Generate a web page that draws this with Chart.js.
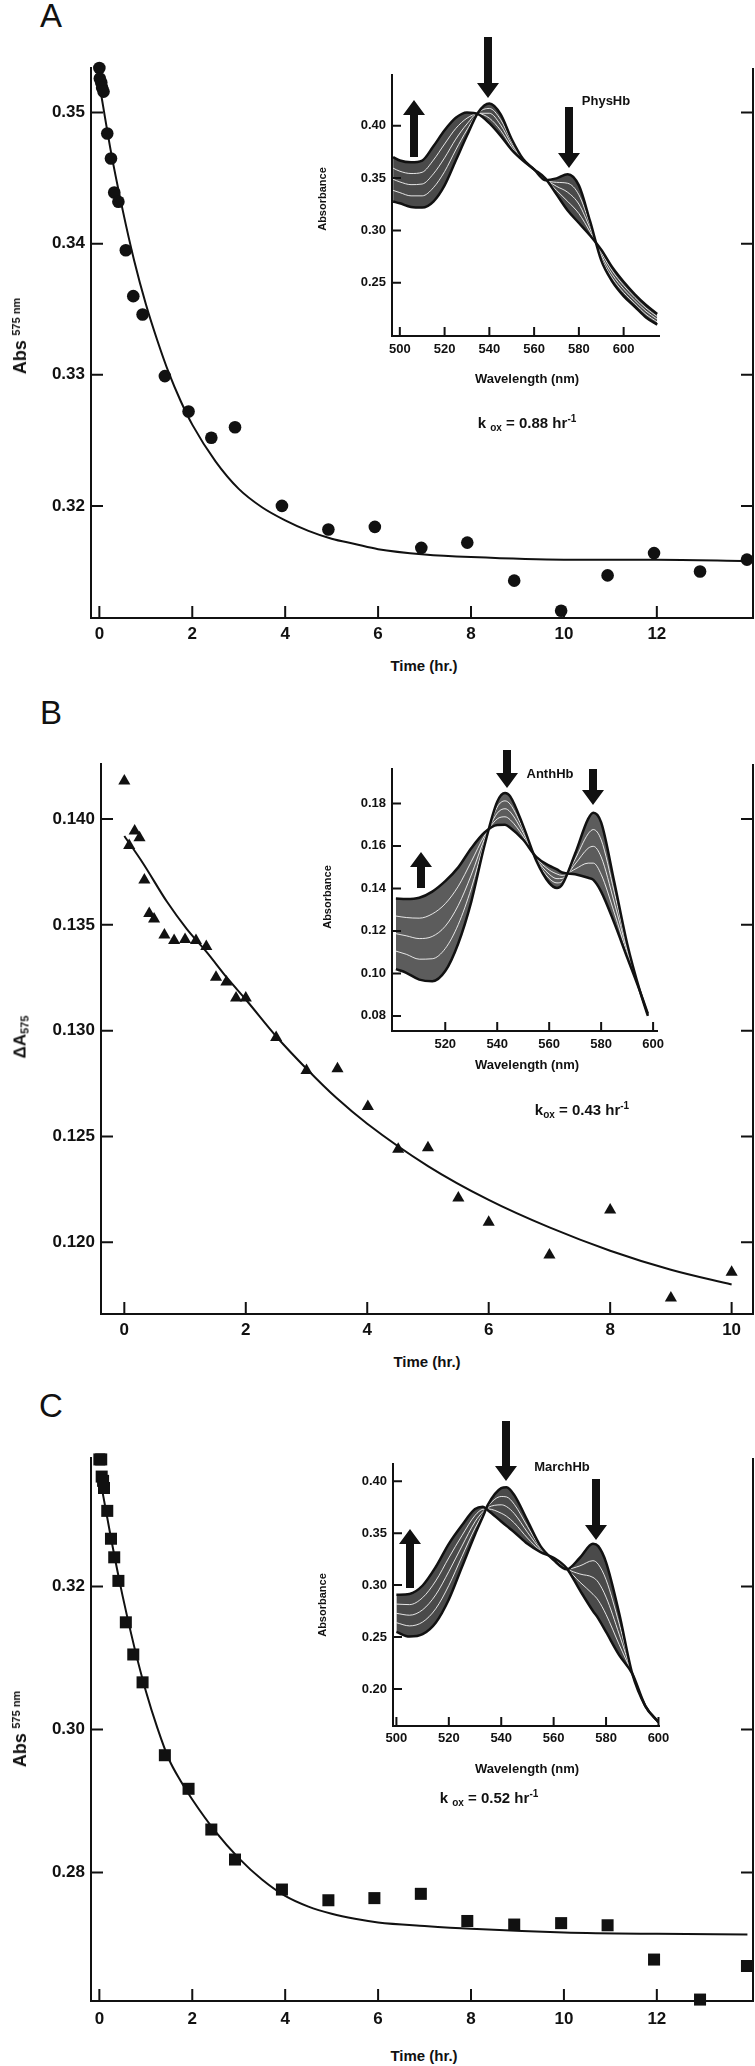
<!DOCTYPE html>
<html>
<head>
<meta charset="utf-8">
<script src="https://cdn.jsdelivr.net/npm/chart.js@4.4.0/dist/chart.umd.min.js"></script>
<style>
body { margin: 0; background: #fff; }
#page { position: relative; width: 755px; height: 2066px; overflow: hidden; color: #111;
        font-family: "Liberation Sans", Arial, Helvetica, sans-serif; }
#plots canvas { position: absolute; }
.t { position: absolute; transform: translate(-50%, -50%); white-space: nowrap; line-height: 1; font-weight: bold; }
.rot { transform: translate(-50%, -50%) rotate(-90deg); }
.sb { font-size: 10px; vertical-align: -3px; }
.sp { font-size: 10px; vertical-align: 6px; }
#arrows { position: absolute; left: 0; top: 0; }
</style>
</head>
<body>
<div id="page">
  <div id="plots"></div>

  <!-- panel A -->
  <div class="t" style="left:51px;top:15px;font-size:33px;font-weight:normal">A</div>
  <div class="t rot" style="left:20px;top:336px"><span style="font-size:18px">Abs</span> <span style="font-size:11px;vertical-align:top">575 nm</span></div>
  <div class="t" style="left:424px;top:665px;font-size:15px">Time (hr.)</div>
  <div class="t rot" style="left:322px;top:199px;font-size:11px">Absorbance</div>
  <div class="t" style="left:527px;top:378px;font-size:13px">Wavelength (nm)</div>
  <div class="t" style="left:606px;top:100px;font-size:13px">PhysHb</div>
  <div class="t" style="left:527px;top:423px;font-size:15px">k <span class="sb">ox</span> = 0.88 hr<span class="sp">-1</span></div>

  <!-- panel B -->
  <div class="t" style="left:51px;top:712px;font-size:33px;font-weight:normal">B</div>
  <div class="t rot" style="left:21px;top:1037px"><span style="font-size:17px">ΔA</span><span style="font-size:11px;vertical-align:-3px">575</span></div>
  <div class="t" style="left:427px;top:1361px;font-size:15px">Time (hr.)</div>
  <div class="t rot" style="left:327px;top:897px;font-size:11px">Absorbance</div>
  <div class="t" style="left:527px;top:1064px;font-size:13px">Wavelength (nm)</div>
  <div class="t" style="left:550px;top:773px;font-size:13px">AnthHb</div>
  <div class="t" style="left:582px;top:1110px;font-size:15px">k<span class="sb">ox</span> = 0.43 hr<span class="sp">-1</span></div>

  <!-- panel C -->
  <div class="t" style="left:51px;top:1405px;font-size:33px;font-weight:normal">C</div>
  <div class="t rot" style="left:20px;top:1729px"><span style="font-size:18px">Abs</span> <span style="font-size:11px;vertical-align:top">575 nm</span></div>
  <div class="t" style="left:424px;top:2055px;font-size:15px">Time (hr.)</div>
  <div class="t rot" style="left:322px;top:1605px;font-size:11px">Absorbance</div>
  <div class="t" style="left:527px;top:1768px;font-size:13px">Wavelength (nm)</div>
  <div class="t" style="left:562px;top:1466px;font-size:13px">MarchHb</div>
  <div class="t" style="left:489px;top:1798px;font-size:15px">k <span class="sb">ox</span> = 0.52 hr<span class="sp">-1</span></div>

  <svg id="arrows" width="755" height="2066"></svg>
</div>

<script>
// ---- Panel A: PhysHb, Abs 575 nm vs time ----
const timeA = [0, 0.01, 0.04, 0.06, 0.09, 0.17, 0.25, 0.32, 0.41, 0.57, 0.73, 0.93, 1.41, 1.92, 2.41, 2.92,
  3.93, 4.93, 5.93, 6.93, 7.92, 8.93, 9.94, 10.94, 11.94, 12.93, 13.94];
const absA = [0.3534, 0.3526, 0.3523, 0.3519, 0.3516, 0.3484, 0.3465, 0.3439, 0.3432, 0.3395, 0.3360, 0.3346,
  0.3299, 0.3272, 0.3252, 0.3260, 0.3200, 0.3182, 0.3184, 0.3168, 0.3172, 0.3143, 0.3120, 0.3147, 0.3164, 0.3150, 0.3159];
const fitTimeA = [0, 0.25, 0.5, 0.75, 1, 1.25, 1.5, 1.75, 2, 2.5, 3, 3.5, 4, 4.5, 5, 5.5, 6, 7, 8, 10, 12, 13.95];
const fitAbsA = [0.3522, 0.3470, 0.3426, 0.3387, 0.3354, 0.3326, 0.3301, 0.3280, 0.3262, 0.3234, 0.3213, 0.3199,
  0.3189, 0.3181, 0.3175, 0.3171, 0.3167, 0.3163, 0.3161, 0.3159, 0.3159, 0.3158];

// inset A spectra (first scan, three in-between scans, last scan)
const waveA = [497, 500, 505, 510, 515, 520, 525, 530, 535, 540, 545, 550, 555, 560, 565, 570, 575, 580, 585, 590,
  595, 600, 605, 610, 615];
const scanA0 = [0.3276, 0.3259, 0.3224, 0.3218, 0.3276, 0.3430, 0.3667, 0.3905, 0.4126, 0.4211, 0.4110, 0.3870,
  0.3684, 0.3582, 0.3480, 0.3497, 0.3537, 0.3430, 0.3088, 0.2714, 0.2510, 0.2374, 0.2272, 0.2170, 0.2102];
const scanA1 = [0.3382, 0.3361, 0.3330, 0.3330, 0.3408, 0.3562, 0.3769, 0.3960, 0.4122, 0.4164, 0.4059, 0.3845,
  0.3680, 0.3582, 0.3484, 0.3459, 0.3450, 0.3340, 0.3054, 0.2740, 0.2544, 0.2408, 0.2302, 0.2200, 0.2127];
const scanA2 = [0.3488, 0.3463, 0.3437, 0.3443, 0.3540, 0.3693, 0.3871, 0.4016, 0.4118, 0.4118, 0.4008, 0.3820,
  0.3676, 0.3582, 0.3489, 0.3421, 0.3364, 0.3251, 0.3020, 0.2765, 0.2578, 0.2442, 0.2332, 0.2230, 0.2153];
const scanA3 = [0.3594, 0.3565, 0.3543, 0.3555, 0.3671, 0.3825, 0.3973, 0.4071, 0.4114, 0.4071, 0.3956, 0.3794,
  0.3671, 0.3582, 0.3493, 0.3382, 0.3277, 0.3161, 0.2986, 0.2791, 0.2612, 0.2476, 0.2361, 0.2259, 0.2178];
const scanA4 = [0.3700, 0.3667, 0.3650, 0.3667, 0.3803, 0.3956, 0.4075, 0.4126, 0.4110, 0.4024, 0.3905, 0.3769,
  0.3667, 0.3582, 0.3497, 0.3344, 0.3190, 0.3071, 0.2952, 0.2816, 0.2646, 0.2510, 0.2391, 0.2289, 0.2204];

// ---- Panel B: AnthHb, delta A575 vs time ----
const timeB = [0, 0.08, 0.17, 0.25, 0.33, 0.41, 0.49, 0.66, 0.82, 1.0, 1.18, 1.35, 1.51, 1.68, 1.84, 2.0, 2.5,
  3.0, 3.51, 4.01, 4.51, 5.0, 5.5, 6.0, 7.0, 8.0, 9.0, 10.0];
const dA = [0.1418, 0.13875, 0.13943, 0.13911, 0.13712, 0.13553, 0.13528, 0.13452, 0.13426, 0.13431, 0.13426,
  0.13398, 0.13252, 0.13230, 0.13154, 0.13154, 0.12967, 0.12812, 0.12820, 0.12641, 0.12439, 0.12447, 0.12209,
  0.12094, 0.11940, 0.12153, 0.11737, 0.11858];
const fitTimeB = [0, 0.31, 0.70, 1.03, 1.36, 1.69, 2.02, 2.51, 3.0, 3.5, 4.0, 5, 6, 7, 8, 9, 10];
const fitDA = [0.1392, 0.1379, 0.1361, 0.1348, 0.1337, 0.1325, 0.1314, 0.1297, 0.1282, 0.1268, 0.1256, 0.1236,
  0.1220, 0.1207, 0.1196, 0.1187, 0.1180];

const waveB = [501, 505, 510, 515, 520, 525, 530, 535, 540, 543, 545, 550, 555, 560, 563, 565, 570, 575, 577, 580,
  585, 590, 595, 598];
const scanB0 = [0.1020, 0.1003, 0.0971, 0.0963, 0.1011, 0.1141, 0.1337, 0.1597, 0.1808, 0.1849, 0.1833, 0.1694,
  0.1532, 0.1426, 0.1402, 0.1418, 0.1564, 0.1727, 0.1756, 0.1711, 0.1434, 0.1141, 0.0914, 0.0800];
const scanB1 = [0.1105, 0.1090, 0.1067, 0.1069, 0.1117, 0.1230, 0.1400, 0.1613, 0.1783, 0.1812, 0.1796, 0.1678,
  0.1536, 0.1447, 0.1426, 0.1433, 0.1538, 0.1657, 0.1677, 0.1629, 0.1385, 0.1122, 0.0914, 0.0803];
const scanB2 = [0.1187, 0.1177, 0.1164, 0.1174, 0.1222, 0.1320, 0.1463, 0.1630, 0.1754, 0.1775, 0.1760, 0.1662,
  0.1540, 0.1467, 0.1446, 0.1447, 0.1515, 0.1589, 0.1598, 0.1548, 0.1336, 0.1108, 0.0914, 0.0805];
const scanB3 = [0.1270, 0.1263, 0.1260, 0.1280, 0.1328, 0.1410, 0.1526, 0.1646, 0.1727, 0.1737, 0.1723, 0.1645,
  0.1544, 0.1487, 0.1468, 0.1461, 0.1491, 0.1519, 0.1519, 0.1466, 0.1288, 0.1092, 0.0914, 0.0807];
const scanB4 = [0.1353, 0.1350, 0.1356, 0.1385, 0.1434, 0.1499, 0.1589, 0.1662, 0.1699, 0.1700, 0.1686, 0.1629,
  0.1548, 0.1507, 0.1490, 0.1475, 0.1467, 0.1450, 0.1440, 0.1385, 0.1239, 0.1076, 0.0914, 0.0810];

// ---- Panel C: MarchHb, Abs 575 nm vs time ----
const timeC = [0, 0.04, 0.05, 0.08, 0.10, 0.17, 0.25, 0.32, 0.41, 0.57, 0.73, 0.93, 1.41, 1.92, 2.41, 2.92,
  3.93, 4.93, 5.92, 6.92, 7.92, 8.93, 9.94, 10.94, 11.94, 12.93, 13.94];
const absC = [0.3378, 0.3378, 0.3354, 0.3348, 0.3338, 0.3306, 0.3267, 0.3241, 0.3208, 0.3150, 0.3105, 0.3066,
  0.2964, 0.2917, 0.2860, 0.2818, 0.2776, 0.2761, 0.2764, 0.2770, 0.2732, 0.2727, 0.2729, 0.2726, 0.2678, 0.2622, 0.2669];
const fitTimeC = [0, 0.25, 0.5, 0.75, 1, 1.25, 1.5, 1.75, 2, 2.5, 3, 3.5, 4, 4.5, 5, 5.5, 6, 7, 8, 10, 12, 13.95];
const fitAbsC = [0.3357, 0.3268, 0.3187, 0.3116, 0.3054, 0.3002, 0.2958, 0.2928, 0.2902, 0.2857, 0.2820, 0.2790,
  0.2767, 0.2752, 0.2742, 0.2735, 0.2730, 0.2725, 0.2721, 0.2716, 0.2714, 0.2713];

const waveC = [500, 505, 510, 515, 520, 525, 530, 533, 535, 540, 542, 545, 550, 555, 560, 565, 570, 575, 577, 580,
  585, 590, 595, 600];
const scanC0 = [0.2549, 0.2504, 0.2527, 0.2638, 0.2862, 0.3174, 0.3487, 0.3660, 0.3777, 0.3933, 0.3942, 0.3866,
  0.3621, 0.3375, 0.3241, 0.3152, 0.3263, 0.3397, 0.3375, 0.3219, 0.2728, 0.2147, 0.1835, 0.1679];
const scanC1 = [0.2638, 0.2607, 0.2644, 0.2772, 0.2996, 0.3275, 0.3548, 0.3683, 0.3762, 0.3853, 0.3849, 0.3777,
  0.3565, 0.3360, 0.3247, 0.3154, 0.3185, 0.3235, 0.3201, 0.3052, 0.2628, 0.2147, 0.1835, 0.1679];
const scanC2 = [0.2728, 0.2710, 0.2762, 0.2906, 0.3130, 0.3375, 0.3610, 0.3707, 0.3748, 0.3773, 0.3756, 0.3688,
  0.3509, 0.3346, 0.3252, 0.3157, 0.3107, 0.3074, 0.3028, 0.2884, 0.2527, 0.2147, 0.1835, 0.1679];
const scanC3 = [0.2817, 0.2812, 0.2879, 0.3040, 0.3263, 0.3476, 0.3671, 0.3730, 0.3733, 0.3692, 0.3663, 0.3598,
  0.3453, 0.3331, 0.3258, 0.3159, 0.3029, 0.2912, 0.2854, 0.2717, 0.2427, 0.2147, 0.1835, 0.1679];
const scanC4 = [0.2906, 0.2915, 0.2996, 0.3174, 0.3397, 0.3576, 0.3732, 0.3754, 0.3719, 0.3612, 0.3570, 0.3509,
  0.3397, 0.3317, 0.3263, 0.3161, 0.2951, 0.2750, 0.2680, 0.2549, 0.2326, 0.2147, 0.1835, 0.1679];

Chart.defaults.font.family = '"Liberation Sans", Arial, Helvetica, sans-serif';
Chart.defaults.color = '#111';

const INK = '#111';
const pts = (xs, ys) => xs.map((x, i) => ({x: x, y: ys[i]}));

// ticks point inward, and the main plots get a closing line on the right
const frame = {
  id: 'frame',
  afterDraw(chart, args, opts) {
    const {ctx, chartArea: a, scales: {x, y}} = chart;
    ctx.save();
    ctx.strokeStyle = INK;
    ctx.lineWidth = 2;
    ctx.beginPath();
    x.ticks.forEach(t => {
      if (t.label === null || t.label === undefined || t.label === '') return;
      const px = x.getPixelForValue(t.value);
      ctx.moveTo(px, a.bottom);
      ctx.lineTo(px, a.bottom - opts.len);
    });
    y.ticks.forEach(t => {
      if (t.label === null || t.label === undefined || t.label === '') return;
      const py = y.getPixelForValue(t.value);
      ctx.moveTo(a.left, py);
      ctx.lineTo(a.left + opts.len, py);
      if (opts.right) {
        ctx.moveTo(a.right, py);
        ctx.lineTo(a.right - opts.len, py);
      }
    });
    if (opts.right) {
      ctx.moveTo(a.right, a.top);
      ctx.lineTo(a.right, a.bottom + 1);
    }
    ctx.stroke();
    ctx.restore();
  }
};

function buildChart(g, datasets, sc) {
  const cv = document.createElement('canvas');
  const w = g.axisW + (g.right - g.left) + g.padR;
  const h = g.padT + (g.bottom - g.top) + g.axisH;
  cv.width = w;
  cv.height = h;
  cv.style.left = (g.left - g.axisW) + 'px';
  cv.style.top = (g.top - g.padT) + 'px';
  document.getElementById('plots').appendChild(cv);
  const tickFont = {size: sc.font, weight: 'bold'};
  return new Chart(cv, {
    type: 'scatter',
    data: {datasets: datasets},
    options: {
      responsive: false,
      animation: false,
      devicePixelRatio: 1,
      events: [],
      layout: {padding: {left: 0, right: g.padR, top: g.padT, bottom: 0}},
      plugins: {
        legend: {display: false},
        tooltip: {enabled: false},
        frame: {len: sc.tick, right: sc.right}
      },
      scales: {
        x: {
          type: 'linear', min: sc.x[0], max: sc.x[1],
          afterFit: s => { s.height = g.axisH; },
          grid: {display: false, drawTicks: false},
          border: {display: true, color: INK, width: 2},
          ticks: {stepSize: sc.xStep, includeBounds: false, autoSkip: false, maxRotation: 0,
                  padding: sc.xPad, color: INK, font: tickFont, callback: sc.xFmt}
        },
        y: {
          type: 'linear', min: sc.y[0], max: sc.y[1],
          afterFit: s => { s.width = g.axisW; },
          grid: {display: false, drawTicks: false},
          border: {display: true, color: INK, width: 2},
          ticks: {stepSize: sc.yStep, includeBounds: false, autoSkip: false,
                  padding: 6, color: INK, font: tickFont, callback: sc.yFmt}
        }
      }
    },
    plugins: [frame]
  });
}

function kinetics(times, values, fitT, fitV, style, radius) {
  return [
    {data: pts(times, values), pointStyle: style, pointRadius: radius, backgroundColor: INK,
     borderWidth: 0, clip: false},
    {type: 'line', data: pts(fitT, fitV), borderColor: INK, borderWidth: 2, pointRadius: 0,
     cubicInterpolationMode: 'monotone', fill: false}
  ];
}

function spectra(wave, scans, band) {
  const first = scans[0], last = scans[scans.length - 1];
  const line = (ys, color, width, order) => ({type: 'line', data: pts(wave, ys), borderColor: color,
    borderWidth: width, pointRadius: 0, cubicInterpolationMode: 'monotone', fill: false, order: order});
  const sets = [line(first, INK, 2.5, 0), line(last, INK, 2.5, 0)];
  scans.slice(1, -1).forEach(s => sets.push(line(s, 'rgba(255,255,255,0.85)', 1, 1)));
  const fillSet = line(last, 'rgba(0,0,0,0)', 0, 2);
  fillSet.fill = 0;
  fillSet.backgroundColor = band;
  sets.push(fillSet);
  return sets;
}

const int0 = v => String(Math.round(v));

// main kinetic plots
buildChart({left: 91, right: 753, top: 68, bottom: 618, axisW: 91, axisH: 32, padT: 24, padR: 10},
  kinetics(timeA, absA, fitTimeA, fitAbsA, 'circle', 6.3),
  {x: [-0.18, 14.07], y: [0.31145, 0.3534], xStep: 2, yStep: 0.01, font: 17, tick: 12, right: true, xPad: 6,
   xFmt: v => (v > 13 ? null : int0(v)), yFmt: v => v.toFixed(2)});

buildChart({left: 101, right: 753, top: 764, bottom: 1314, axisW: 101, axisH: 32, padT: 24, padR: 10},
  kinetics(timeB, dA, fitTimeB, fitDA, 'triangle', 7),
  {x: [-0.384, 10.352], y: [0.11661, 0.1426], xStep: 2, yStep: 0.005, font: 17, tick: 12, right: true, xPad: 6,
   xFmt: int0, yFmt: v => v.toFixed(3)});

buildChart({left: 91, right: 753, top: 1458, bottom: 2001, axisW: 91, axisH: 32, padT: 24, padR: 10},
  kinetics(timeC, absC, fitTimeC, fitAbsC, 'rect', 8.5),
  {x: [-0.18, 14.07], y: [0.2620, 0.3380], xStep: 2, yStep: 0.02, font: 17, tick: 12, right: true, xPad: 8,
   xFmt: v => (v > 13 ? null : int0(v)), yFmt: v => v.toFixed(2)});

// inset spectra
buildChart({left: 392, right: 659, top: 75, bottom: 336, axisW: 42, axisH: 24, padT: 16, padR: 20},
  spectra(waveA, [scanA0, scanA1, scanA2, scanA3, scanA4], '#4a4a4a'),
  {x: [496.5, 615.8], y: [0.1993, 0.4483], xStep: 20, yStep: 0.05, font: 13, tick: 9, right: false, xPad: 6,
   xFmt: int0, yFmt: v => (v < 0.22 ? null : v.toFixed(2))});

buildChart({left: 392, right: 657, top: 769, bottom: 1031, axisW: 42, axisH: 24, padT: 16, padR: 20},
  spectra(waveB, [scanB0, scanB1, scanB2, scanB3, scanB4], '#5c5c5c'),
  {x: [499.5, 601.5], y: [0.0729, 0.1962], xStep: 20, yStep: 0.02, font: 13, tick: 9, right: false, xPad: 6,
   xFmt: v => (v < 510 ? null : int0(v)), yFmt: v => v.toFixed(2)});

buildChart({left: 393, right: 659, top: 1464, bottom: 1726, axisW: 42, axisH: 24, padT: 16, padR: 20},
  spectra(waveC, [scanC0, scanC1, scanC2, scanC3, scanC4], '#4a4a4a'),
  {x: [498.7, 600.2], y: [0.1643, 0.4166], xStep: 20, yStep: 0.05, font: 13, tick: 9, right: false, xPad: 5,
   xFmt: int0, yFmt: v => v.toFixed(2)});

// block arrows marking the direction of change in each inset
const arrowMarks = [
  {x: 414, from: 157, to: 100}, {x: 488, from: 37, to: 98}, {x: 569, from: 107, to: 168},
  {x: 421, from: 888, to: 852}, {x: 507, from: 750, to: 788}, {x: 593, from: 769, to: 805},
  {x: 410, from: 1588, to: 1529}, {x: 506, from: 1421, to: 1481}, {x: 596, from: 1479, to: 1540}
];
const svg = document.getElementById('arrows');
arrowMarks.forEach(m => {
  const d = m.to > m.from ? 1 : -1;
  const hb = m.to - d * 15;
  const p = [[m.x - 4, m.from], [m.x + 4, m.from], [m.x + 4, hb], [m.x + 11, hb], [m.x, m.to],
             [m.x - 11, hb], [m.x - 4, hb]];
  const poly = document.createElementNS('http://www.w3.org/2000/svg', 'polygon');
  poly.setAttribute('points', p.map(q => q.join(',')).join(' '));
  poly.setAttribute('fill', INK);
  svg.appendChild(poly);
});
</script>
</body>
</html>
